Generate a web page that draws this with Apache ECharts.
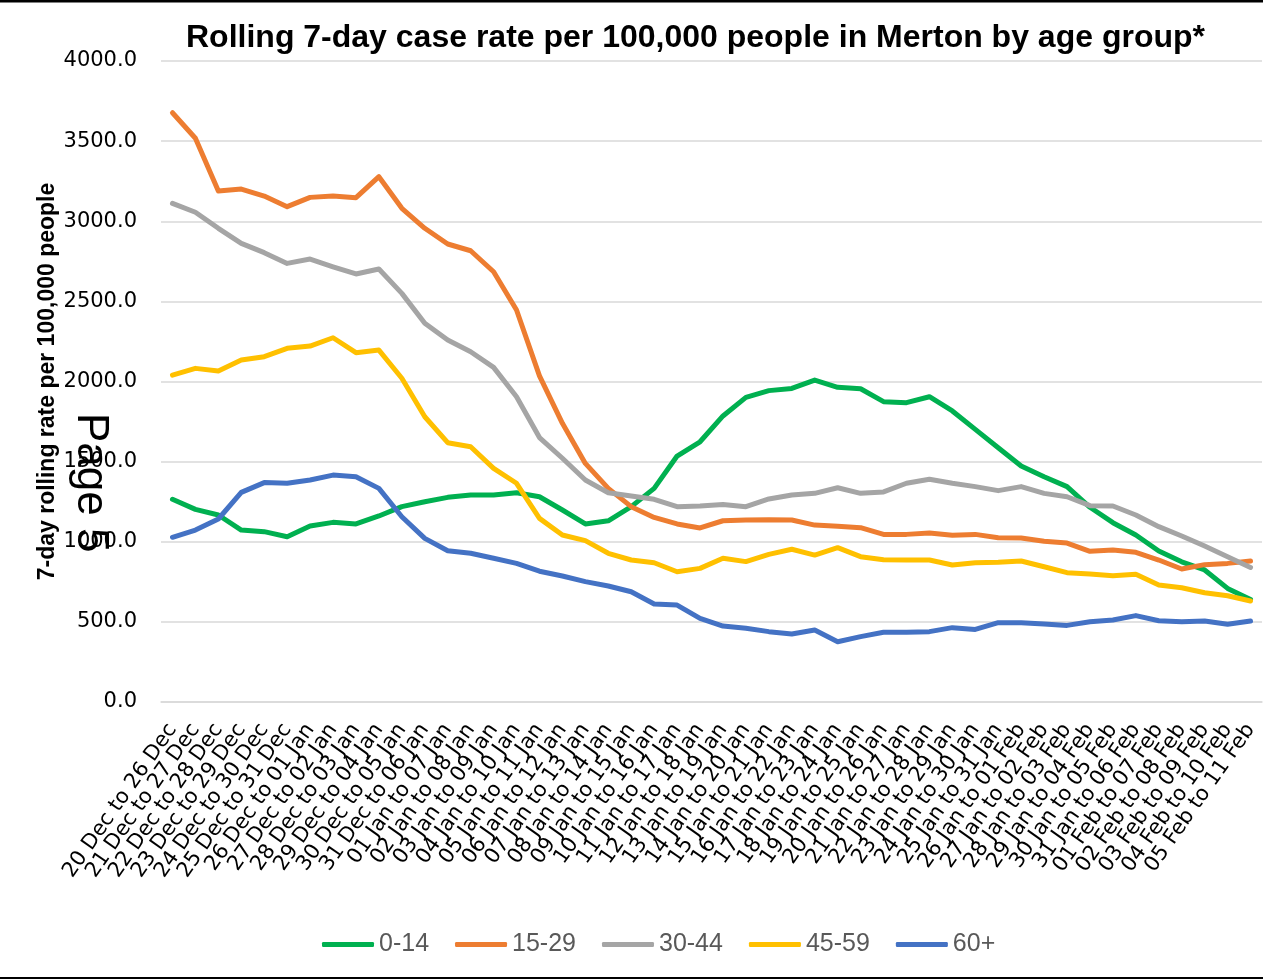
<!DOCTYPE html>
<html>
<head>
<meta charset="utf-8">
<script src="https://cdn.jsdelivr.net/npm/echarts@6.0.0/dist/echarts.min.js"></script>
<style>
  html, body { margin: 0; padding: 0; background: #fff; }
  #chart { width: 1263px; height: 980px; }
</style>
<title>Merton case rate by age group</title>
</head>
<body>
<div id="chart"></div>
<script type="text/javascript">
// week labels (start date to end date)
var weeks = [
  '20 Dec to 26 Dec','21 Dec to 27 Dec','22 Dec to 28 Dec','23 Dec to 29 Dec','24 Dec to 30 Dec','25 Dec to 31 Dec',
  '26 Dec to 01 Jan','27 Dec to 02 Jan','28 Dec to 03 Jan','29 Dec to 04 Jan','30 Dec to 05 Jan','31 Dec to 06 Jan',
  '01 Jan to 07 Jan','02 Jan to 08 Jan','03 Jan to 09 Jan','04 Jan to 10 Jan','05 Jan to 11 Jan','06 Jan to 12 Jan',
  '07 Jan to 13 Jan','08 Jan to 14 Jan','09 Jan to 15 Jan','10 Jan to 16 Jan','11 Jan to 17 Jan','12 Jan to 18 Jan',
  '13 Jan to 19 Jan','14 Jan to 20 Jan','15 Jan to 21 Jan','16 Jan to 22 Jan','17 Jan to 23 Jan','18 Jan to 24 Jan',
  '19 Jan to 25 Jan','20 Jan to 26 Jan','21 Jan to 27 Jan','22 Jan to 28 Jan','23 Jan to 29 Jan','24 Jan to 30 Jan',
  '25 Jan to 31 Jan','26 Jan to 01 Feb','27 Jan to 02 Feb','28 Jan to 03 Feb','29 Jan to 04 Feb','30 Jan to 05 Feb',
  '31 Jan to 06 Feb','01 Feb to 07 Feb','02 Feb to 08 Feb','03 Feb to 09 Feb','04 Feb to 10 Feb','05 Feb to 11 Feb'
];

// rates per 100,000
var age0_14  = [1265,1202,1167,1073,1063,1031,1098,1121,1111,1161,1219,1250,1277,1292,1292,1306,1281,1198,1111,1131,1219,1333,1535,1624,1785,1901,1943,1957,2009,1964,1955,1874,1868,1905,1816,1701,1587,1473,1406,1344,1215,1119,1042,942,875,824,709,640];
var age15_29 = [3677,3518,3189,3201,3157,3091,3149,3157,3147,3278,3081,2956,2858,2816,2685,2446,2035,1739,1489,1333,1219,1152,1111,1086,1131,1136,1138,1136,1104,1096,1088,1046,1046,1055,1040,1046,1025,1023,1003,992,940,948,934,886,830,857,865,880];
var age30_44 = [3112,3056,2956,2862,2804,2737,2764,2716,2671,2702,2550,2363,2259,2186,2088,1905,1650,1521,1385,1306,1285,1265,1219,1223,1233,1219,1267,1292,1302,1337,1302,1311,1365,1390,1365,1344,1319,1344,1302,1281,1225,1223,1167,1094,1036,973,907,840];
var age45_59 = [2040,2082,2065,2134,2155,2207,2221,2273,2180,2196,2020,1780,1618,1593,1458,1365,1146,1042,1007,928,886,869,813,834,897,876,921,953,917,963,907,888,886,886,855,869,872,880,844,807,799,788,797,730,713,682,663,630];
var age60plus = [1028,1073,1142,1308,1369,1365,1385,1416,1406,1333,1156,1021,944,928,897,865,816,786,751,724,688,612,605,522,474,460,439,424,449,376,408,435,435,439,464,453,495,495,487,478,501,512,539,507,501,505,485,505];

var groupNames = ['0-14','15-29','30-44','45-59','60+'];
var groupColors = ['#00b050','#ed7d31','#a5a5a5','#ffc000','#4472c4'];
var groupData = [age0_14, age15_29, age30_44, age45_59, age60plus];

var myChart = echarts.init(document.getElementById('chart'));

var series = [];
for (var i = 0; i < groupNames.length; i++) {
  series.push({
    name: groupNames[i],
    type: 'line',
    data: groupData[i],
    symbol: 'none',
    color: groupColors[i],
    lineStyle: { width: 5, color: groupColors[i], cap: 'round', join: 'round' }
  });
}

var option = {
  animation: false,
  backgroundColor: '#fff',
  title: {
    text: 'Rolling 7-day case rate per 100,000 people in Merton by age group*',
    left: 181,
    top: 17,
    textStyle: { fontFamily: 'Liberation Sans', fontWeight: 'bold', fontSize: 32, color: '#000' }
  },
  grid: { left: 161, right: 1, top: 61, bottom: 278, outerBoundsMode: 'none' },
  legend: {
    data: groupNames,
    left: 317,
    top: 927,
    icon: 'roundRect',
    itemWidth: 52,
    itemHeight: 5,
    itemGap: 26,
    textStyle: { fontFamily: 'Liberation Sans', fontSize: 25, color: '#595959' }
  },
  xAxis: {
    type: 'category',
    data: weeks,
    boundaryGap: true,
    axisLine: { show: true, lineStyle: { color: '#d9d9d9', width: 1.5 } },
    axisTick: { show: false },
    axisLabel: {
      interval: 0,
      rotate: 55,
      margin: 24,
      fontFamily: 'DejaVu Sans',
      fontSize: 21,
      color: '#000'
    }
  },
  yAxis: {
    type: 'value',
    min: 0,
    max: 4000,
    interval: 500,
    name: '7-day rolling rate per 100,000 people',
    nameLocation: 'middle',
    nameRotate: 90,
    nameGap: 102,
    nameMoveOverlap: false,
    nameTextStyle: { fontFamily: 'Liberation Sans', fontWeight: 'bold', fontSize: 23, color: '#000' },
    axisLine: { show: false },
    axisTick: { show: false },
    splitLine: { lineStyle: { color: '#d9d9d9', width: 1.5 } },
    axisLabel: {
      margin: 24,
      fontFamily: 'DejaVu Sans',
      fontSize: 21,
      color: '#000',
      formatter: function (v) { return v.toFixed(1); }
    }
  },
  series: series,
  graphic: [
    // frame lines of the page
    { type: 'rect', left: 0, top: 0, shape: { width: 1263, height: 2.5 }, style: { fill: '#000' } },
    { type: 'rect', left: 0, top: 977, shape: { width: 1263, height: 2 }, style: { fill: '#000' } },
    // page stamp that sits over the axis
    {
      type: 'text',
      x: 68,
      y: 413,
      rotation: -Math.PI / 2,
      z: 100,
      style: { text: 'Page 5', font: '44px "Liberation Sans"', fill: '#000', align: 'left', verticalAlign: 'bottom' }
    }
  ]
};

myChart.setOption(option);
</script>
</body>
</html>
